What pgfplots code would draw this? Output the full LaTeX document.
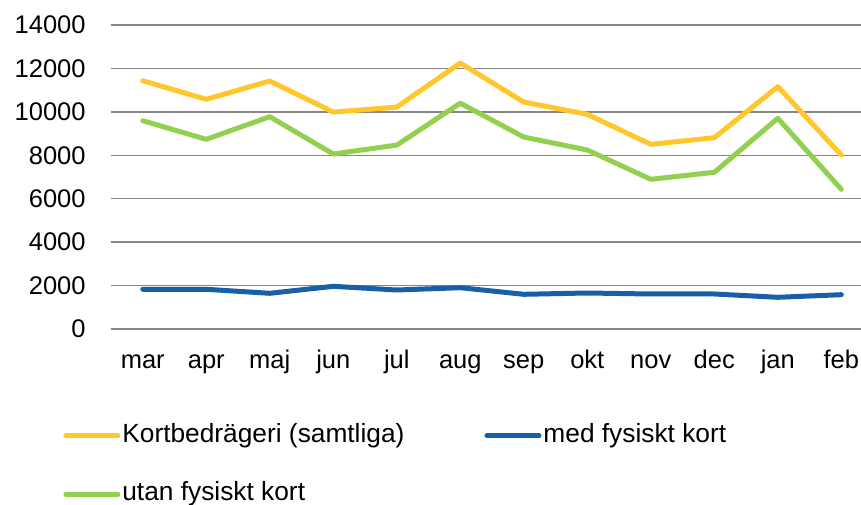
\documentclass[border=0pt]{standalone}
\usepackage{fontspec}
\setmainfont{Liberation Sans}
\usepackage{pgfplots}
\pgfplotsset{compat=1.18}
\definecolor{cyel}{RGB}{255,199,44}
\definecolor{cblu}{RGB}{25,95,167}
\definecolor{cgrn}{RGB}{146,208,80}
\definecolor{cgrid}{RGB}{134,134,134}
\begin{document}
\begin{tikzpicture}
\begin{axis}[
  name=ax,
  scale only axis,
  width=375bp, height=152bp,
  xmin=-0.5, xmax=11.31,
  ymin=0, ymax=14000,
  ytick={0,2000,...,14000},
  xtick={0,...,11},
  xticklabels={mar,apr,maj,jun,jul,aug,sep,okt,nov,dec,jan,feb},
  scaled y ticks=false,
  /pgf/number format/assume math mode=true,
  /pgf/number format/set thousands separator={},
  ymajorgrids,
  major grid style={draw=cgrid, line width=0.7bp},
  axis line style={draw=none},
  major tick length=0pt,
  tick label style={font=\fontsize{12.8}{14}\selectfont},
  xticklabel style={anchor=base, inner sep=0pt, yshift=-19.8bp},
  yticklabel style={anchor=east, inner sep=0pt, xshift=-12.5bp},
  clip=false,
  legend style={draw=none, fill=none, at={(-27bp,-45bp)}, anchor=north west,
    font=\fontsize{13.2}{15}\selectfont,
    nodes={inner sep=0pt, text height=9.5bp, text depth=2.8bp},
    row sep=17bp,
    /tikz/every odd column/.append style={column sep=1bp},
    /tikz/every even column/.append style={column sep=40bp}},
  legend columns=2,
  legend cell align=left,
  legend image code/.code={\draw[#1, line width=2.5bp, line cap=round] (0bp,0bp) -- (26bp,0bp);},
  every axis plot/.append style={line width=2.5bp, line cap=round, line join=round},
]
\addplot[cyel] coordinates {(0,11435) (1,10578) (2,11421) (3,9990) (4,10220) (5,12250) (6,10450) (7,9887) (8,8505) (9,8810) (10,11160) (11,8013)};
\addlegendentry{Kortbedrägeri (samtliga)}
\addplot[cblu] coordinates {(0,1828) (1,1828) (2,1644) (3,1966) (4,1796) (5,1902) (6,1598) (7,1658) (8,1612) (9,1612) (10,1460) (11,1580)};
\addlegendentry{med fysiskt kort}
\addplot[cgrn] coordinates {(0,9593) (1,8735) (2,9777) (3,8060) (4,8470) (5,10400) (6,8840) (7,8243) (8,6894) (9,7216) (10,9703) (11,6433)};
\addlegendentry{utan fysiskt kort}
\end{axis}
\pgfresetboundingbox
\path[use as bounding box] (-55.5bp,-88bp) rectangle (375bp,164.5bp);
\end{tikzpicture}
\end{document}
